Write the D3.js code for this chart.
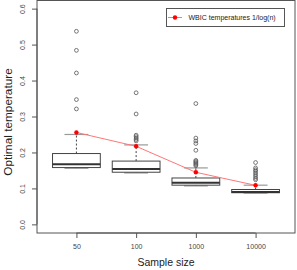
<!DOCTYPE html>
<html>
<head>
<meta charset="utf-8">
<script src="https://cdn.jsdelivr.net/npm/d3@7"></script>
<style>
  body { margin: 0; background: #fff; }
  svg text { font-family: "Liberation Sans", Arial, sans-serif; }
</style>
</head>
<body>
<div class="chart-holder"></div>
<script>
// categories and box summaries
const sizes = ['50', '100', '1000', '10000'];
const q1 = [0.158, 0.145, 0.109, 0.088];
const medians = [0.167, 0.154, 0.116, 0.090];
const q3 = [0.197, 0.176, 0.129, 0.097];
const whiskLow = [0.156, 0.143, 0.107, 0.087];
const whiskHigh = [0.250, 0.221, 0.157, 0.109];
const outliers = [
  [0.537, 0.484, 0.421, 0.347, 0.321],
  [0.366, 0.307, 0.248, 0.244, 0.240, 0.236, 0.232],
  [0.336, 0.240, 0.232, 0.225, 0.206, 0.178, 0.175, 0.172, 0.169, 0.166, 0.163],
  [0.172, 0.157, 0.152, 0.148, 0.143, 0.138, 0.133, 0.128, 0.124]
];
const wbic = [0.2556, 0.2171, 0.1448, 0.1086];
const yTicks = [0, 0.1, 0.2, 0.3, 0.4, 0.5, 0.6];

const W = 297, H = 270;
const margin = {top: 0, right: 2, bottom: 37, left: 37};
const svg = d3.select('.chart-holder').append('svg')
  .attr('width', W).attr('height', H);
const w = W - margin.left - margin.right;
const h = H - margin.top - margin.bottom;
const g = svg.append('g').attr('transform', `translate(${margin.left},${margin.top})`);

// R style extended ranges
const xScale = d3.scaleLinear().domain([0.34, 4.66]).range([0, w]);
const yScale = d3.scaleLinear().domain([-0.024, 0.624]).range([h, 0]);
const xPos = i => xScale(i + 1);
const bw = xScale(0.8) - xScale(0);

// frame
g.append('rect').attr('x', 0).attr('y', 0.5).attr('width', w).attr('height', h - 0.5)
  .attr('fill', 'none').attr('stroke', '#555').attr('stroke-width', 1);

// y axis
const yAx = g.append('g')
  .call(d3.axisLeft(yScale).tickValues(yTicks).tickFormat(d3.format('.1f')).tickSize(5).tickPadding(5));
yAx.select('.domain').attr('stroke', '#555').attr('d', `M-0,${yScale(0)}V${yScale(0.6)}`);
yAx.selectAll('line').attr('stroke', '#555');
yAx.selectAll('text')
  .attr('font-size', 7).attr('fill', '#444')
  .attr('text-anchor', 'middle')
  .attr('x', 0).attr('dy', 0)
  .attr('transform', 'translate(-12,0) rotate(-90)');

// x axis
const xAx = g.append('g').attr('transform', `translate(0,${h})`)
  .call(d3.axisBottom(xScale).tickValues([1, 2, 3, 4]).tickFormat((d, i) => sizes[i]).tickSize(5).tickPadding(6));
xAx.select('.domain').attr('stroke', '#555').attr('d', `M${xScale(1)},0H${xScale(4)}`);
xAx.selectAll('line').attr('stroke', '#555');
xAx.selectAll('text').attr('font-size', 7).attr('fill', '#444');

// boxes
sizes.forEach((s, i) => {
  const cx = xPos(i);
  const bx = g.append('g');
  // whiskers
  bx.append('line').attr('x1', cx).attr('x2', cx)
    .attr('y1', yScale(q3[i])).attr('y2', yScale(whiskHigh[i]))
    .attr('stroke', '#444').attr('stroke-dasharray', '2,2');
  bx.append('line').attr('x1', cx).attr('x2', cx)
    .attr('y1', yScale(q1[i])).attr('y2', yScale(whiskLow[i]))
    .attr('stroke', '#444').attr('stroke-dasharray', '2,2');
  [whiskHigh[i], whiskLow[i]].forEach(v => {
    bx.append('line').attr('x1', cx - bw / 4).attr('x2', cx + bw / 4)
      .attr('y1', yScale(v)).attr('y2', yScale(v))
      .attr('stroke', '#999').attr('stroke-width', 1.2);
  });
  bx.append('rect')
    .attr('x', cx - bw / 2).attr('width', bw)
    .attr('y', yScale(q3[i])).attr('height', yScale(q1[i]) - yScale(q3[i]))
    .attr('fill', '#fff').attr('stroke', '#444').attr('stroke-width', 1);
  bx.append('line').attr('x1', cx - bw / 2).attr('x2', cx + bw / 2)
    .attr('y1', yScale(medians[i])).attr('y2', yScale(medians[i]))
    .attr('stroke', '#333').attr('stroke-width', 2);
  bx.selectAll('circle').data(outliers[i]).enter().append('circle')
    .attr('cx', cx).attr('cy', d => yScale(d)).attr('r', 1.9)
    .attr('fill', 'none').attr('stroke', '#555').attr('stroke-width', 0.8);
});

// WBIC line
g.append('path').datum(wbic)
  .attr('d', d3.line().x((d, i) => xPos(i)).y(d => yScale(d)))
  .attr('fill', 'none').attr('stroke', '#f77').attr('stroke-width', 1);
g.selectAll('.wp').data(wbic).enter().append('circle')
  .attr('cx', (d, i) => xPos(i)).attr('cy', d => yScale(d)).attr('r', 2.2)
  .attr('fill', '#f00');

// legend
const lg = svg.append('g');
lg.append('rect').attr('x', 166.5).attr('y', 8.5).attr('width', 118).attr('height', 18)
  .attr('fill', '#fff').attr('stroke', '#555');
lg.append('line').attr('x1', 168).attr('x2', 182).attr('y1', 17.5).attr('y2', 17.5)
  .attr('stroke', '#f77');
lg.append('circle').attr('cx', 175).attr('cy', 17.5).attr('r', 2.2).attr('fill', '#f00');
lg.append('text').attr('x', 188.5).attr('y', 20).attr('font-size', 7).attr('fill', '#222')
  .text('WBIC temperatures 1/log(n)');

// axis titles
svg.append('text').attr('x', margin.left + w / 2).attr('y', 266)
  .attr('text-anchor', 'middle').attr('font-size', 10.5).attr('fill', '#222')
  .text('Sample size');
svg.append('text').attr('transform', `translate(12,122) rotate(-90)`)
  .attr('text-anchor', 'middle').attr('font-size', 11.8).attr('fill', '#222')
  .text('Optimal temperature');
</script>
</body>
</html>
